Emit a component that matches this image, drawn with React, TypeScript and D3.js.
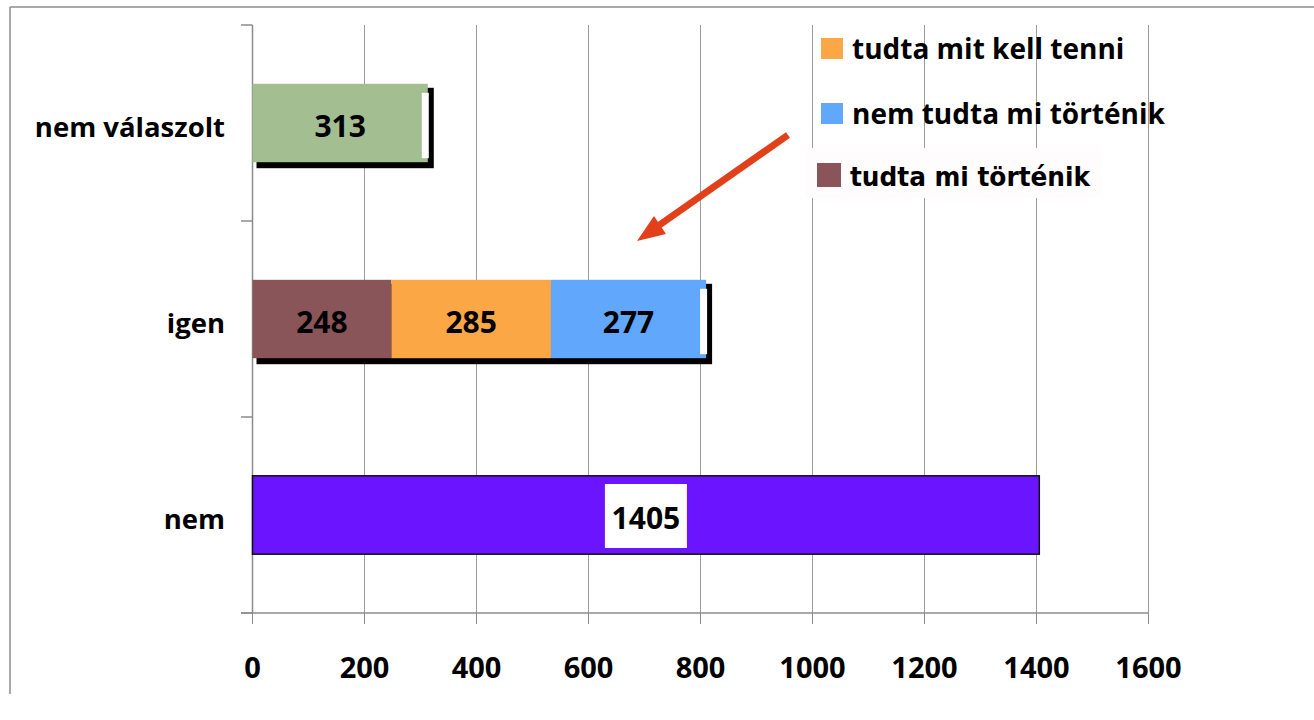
import React from "react";
import * as d3 from "d3";

// categories top to bottom, as in the picture
const categories = ["nem válaszolt", "igen", "nem"];
// segments of each bar (left to right)
const barValues: number[][] = [[313], [248, 285, 277], [1405]];
const barColors: string[][] = [
  ["#A3BE91"],
  ["#8A5558", "#FBA746", "#61A8FC"],
  ["#6A14FF"],
];
const xTicks = [0, 200, 400, 600, 800, 1000, 1200, 1400, 1600];
const legendLabels = ["tudta mit kell tenni", "nem tudta mi történik", "tudta mi történik"];
const legendColors = ["#FBA746", "#61A8FC", "#8A5558"];

const width = 1314;
const height = 720;
const font = "'Open Sans', 'Noto Sans', sans-serif";

const App = () => {
  const x = d3.scaleLinear().domain([0, 1600]).range([252.5, 1148.5]);
  const y = d3
    .scaleBand<string>()
    .domain(categories)
    .range([25, 613])
    .paddingInner(0.6)
    .paddingOuter(0.3);
  const bw = y.bandwidth();
  const step = y.step();
  const top = 25;
  const bottom = 613;

  return (
    <svg
      width={width}
      height={height}
      style={{ position: "absolute", left: 0, top: 0, background: "#fff" }}
    >
      {/* outer frame (top + left only) */}
      <line x1={10} y1={7} x2={1314} y2={7} stroke="#8c8c8c" strokeWidth={1.5} />
      <line x1={10} y1={7} x2={10} y2={694} stroke="#8c8c8c" strokeWidth={1.5} />

      {/* grid */}
      {xTicks.map((t) => (
        <g key={t}>
          <line x1={x(t)} x2={x(t)} y1={top} y2={bottom} stroke="#9c9c9c" strokeWidth={1} />
          <line x1={x(t)} x2={x(t)} y1={bottom} y2={bottom + 11} stroke="#8c8c8c" strokeWidth={1} />
          <text
            x={x(t)}
            y={678}
            textAnchor="middle"
            fontFamily={font}
            fontWeight="bold"
            fontSize={29}
            fill="#000"
          >
            {t}
          </text>
        </g>
      ))}
      <line x1={241} x2={x(1600)} y1={bottom} y2={bottom} stroke="#8c8c8c" strokeWidth={1.5} />
      <line x1={x(0)} x2={x(0)} y1={top} y2={bottom} stroke="#8c8c8c" strokeWidth={1.5} />
      {d3.range(categories.length + 1).map((i) => (
        <line
          key={i}
          x1={241}
          x2={x(0)}
          y1={top + i * step}
          y2={top + i * step}
          stroke="#8c8c8c"
          strokeWidth={1.5}
        />
      ))}

      {/* category labels */}
      {categories.map((c) => (
        <text
          key={c}
          x={225}
          y={(y(c) as number) + bw / 2 + 14}
          textAnchor="end"
          fontFamily={font}
          fontWeight="bold"
          fontSize={27.5}
          fill="#000"
        >
          {c}
        </text>
      ))}

      {/* bars */}
      {categories.map((c, ci) => {
        const vals = barValues[ci];
        const ends = d3.cumsum(vals);
        const total = ends[ends.length - 1];
        const y0 = y(c) as number;
        const x0 = x(0);
        const xEnd = x(total);
        const framed = vals.length === 1 && total > 1000;
        return (
          <g key={c}>
            {!framed && (
              <rect x={x0 + 4} y={y0 + 4} width={xEnd - x0 + 2} height={bw + 2} fill="#000" />
            )}
            {vals.map((v, i) => {
              const a = x(ends[i] - v);
              const b = x(ends[i]);
              return (
                <rect
                  key={i}
                  x={a}
                  y={y0}
                  width={b - a}
                  height={bw}
                  fill={barColors[ci][i]}
                  stroke={framed ? "#111" : "none"}
                  strokeWidth={framed ? 1.5 : 0}
                />
              );
            })}
            {!framed && (
              <rect x={xEnd - 6} y={y0 + 9} width={7} height={bw - 13} fill="#fff" />
            )}
            {vals.map((v, i) => {
              const cx = (x(ends[i] - v) + x(ends[i])) / 2;
              const cy = y0 + bw / 2;
              return (
                <g key={"l" + i}>
                  {framed && (
                    <rect x={cx - 41} y={cy - 31} width={82} height={64} fill="#fff" />
                  )}
                  <text
                    x={cx}
                    y={cy + 14}
                    textAnchor="middle"
                    fontFamily={font}
                    fontWeight="bold"
                    fontSize={30}
                    fill="#000"
                  >
                    {v}
                  </text>
                </g>
              );
            })}
          </g>
        );
      })}

      {/* legend */}
      <rect x={805} y={148} width={296} height={50} fill="#fefcfc" />
      {legendLabels.map((l, i) => {
        const rows = [
          { sx: 821, sy: 38, ty: 59 },
          { sx: 821, sy: 103, ty: 124 },
          { sx: 817, sy: 163, ty: 186 },
        ];
        const r = rows[i];
        const odd = i === 2;
        return (
          <g key={l}>
            <rect x={r.sx} y={r.sy} width={odd ? 24 : 22} height={odd ? 24 : 21} fill={legendColors[i]} />
            <text
              x={odd ? 850 : 852}
              y={r.ty}
              fontFamily={odd ? "'DejaVu Sans Condensed', 'DejaVu Sans', sans-serif" : font}
              fontWeight={odd ? 600 : "bold"}
              fontSize={odd ? 27 : 28}
              textLength={odd ? 240 : undefined}
              lengthAdjust={odd ? "spacingAndGlyphs" : undefined}
              fill="#000"
            >
              {l}
            </text>
          </g>
        );
      })}

      {/* arrow annotation */}
      <line x1={788} y1={135} x2={658} y2={226} stroke="#E2401A" strokeWidth={7} />
      <polygon points="637,241 654,216 666,234" fill="#E2401A" />
    </svg>
  );
};

export default App;
